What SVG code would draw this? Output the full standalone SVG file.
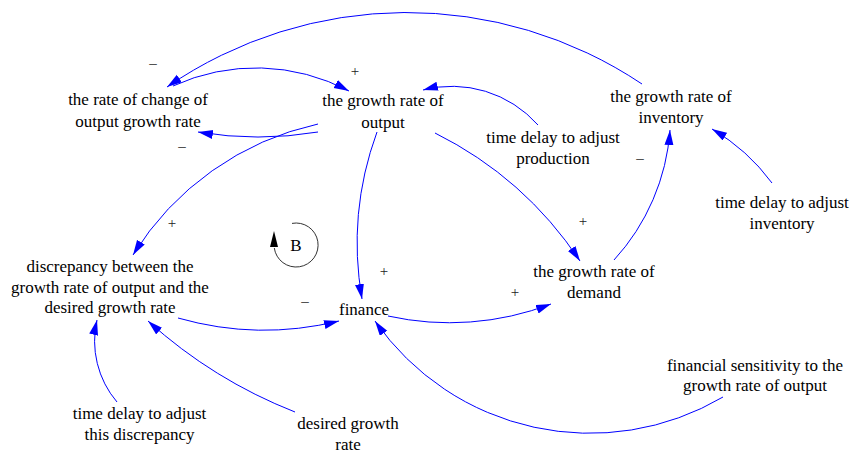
<svg xmlns="http://www.w3.org/2000/svg" width="851" height="453" viewBox="0 0 851 453">
<defs>
<marker id="ah" markerUnits="userSpaceOnUse" markerWidth="16" markerHeight="10" refX="15" refY="4.5" orient="auto">
<path d="M0,0 L15,4.5 L0,9 z" fill="#0000ff"/>
</marker>
</defs>
<rect width="851" height="453" fill="#fff"/>
<g id="connectors" fill="none" stroke="#0000ff" stroke-width="1" marker-end="url(#ah)">
<path d="M642,84 A423,423 0 0,0 167,87"/>
<path d="M173,86 A199,199 0 0,1 349,91"/>
<path d="M318,132 A362,362 0 0,1 198,132"/>
<path d="M318,124 A291,291 0 0,0 133,255"/>
<path d="M377,132 A325,325 0 0,0 362,299"/>
<path d="M435,133 A375,375 0 0,1 580,261"/>
<path d="M538,125 A115,115 0 0,0 423,90"/>
<path d="M772,183 A200,200 0 0,0 712,129"/>
<path d="M614,260 A215,215 0 0,0 670,130"/>
<path d="M178,318 A314,314 0 0,0 339,321"/>
<path d="M388,316 A284,284 0 0,0 551,304"/>
<path d="M723,397 A262,262 0 0,1 375,321"/>
<path d="M117,402 A94,94 0 0,1 97,320"/>
<path d="M295,412 A484,484 0 0,1 148,321"/>
</g>
<g id="polarities" fill="#222" text-anchor="middle" font-size="15" font-family="Liberation Serif">
<text x="153" y="68">–</text>
<text x="355" y="76">+</text>
<text x="182" y="151">–</text>
<text x="172" y="228">+</text>
<text x="640" y="163">–</text>
<text x="583" y="226">+</text>
<text x="384" y="276">+</text>
<text x="305" y="306">–</text>
<text x="515" y="297">+</text>
</g>
<g id="loop-B">
<path d="M292,223.4 A22,22 0 1,1 274.3,248" fill="none" stroke="#333" stroke-width="1"/>
<polygon points="270,247 278,247 274,231" fill="#000"/>
<text x="296" y="251" fill="#000" text-anchor="middle" font-size="17" font-family="Liberation Serif">B</text>
</g>
<g id="nodes" fill="#000" text-anchor="middle" font-size="17" font-family="Liberation Serif">
<g id="rate-of-change">
<text x="138" y="104.5">the rate of change of</text>
<text x="138" y="126.5">output growth rate</text>
</g>
<g id="growth-output">
<text x="383" y="106">the growth rate of</text>
<text x="383" y="128">output</text>
</g>
<g id="growth-inventory">
<text x="671" y="101.5">the growth rate of</text>
<text x="671" y="123">inventory</text>
</g>
<g id="delay-production">
<text x="553" y="142.5">time delay to adjust</text>
<text x="553" y="163.5">production</text>
</g>
<g id="delay-inventory">
<text x="782" y="207.5">time delay to adjust</text>
<text x="782" y="228.5">inventory</text>
</g>
<g id="discrepancy">
<text x="110" y="272">discrepancy between the</text>
<text x="110" y="292.5">growth rate of output and the</text>
<text x="110" y="313">desired growth rate</text>
</g>
<g id="finance">
<text x="364" y="315">finance</text>
</g>
<g id="growth-demand">
<text x="594" y="277">the growth rate of</text>
<text x="594" y="298">demand</text>
</g>
<g id="financial-sensitivity">
<text x="755" y="370.5">financial sensitivity to the</text>
<text x="755" y="391">growth rate of output</text>
</g>
<g id="delay-discrepancy">
<text x="139.5" y="419">time delay to adjust</text>
<text x="139.5" y="440">this discrepancy</text>
</g>
<g id="desired-growth">
<text x="348" y="428.5">desired growth</text>
<text x="348" y="450">rate</text>
</g>
</g>
</svg>
